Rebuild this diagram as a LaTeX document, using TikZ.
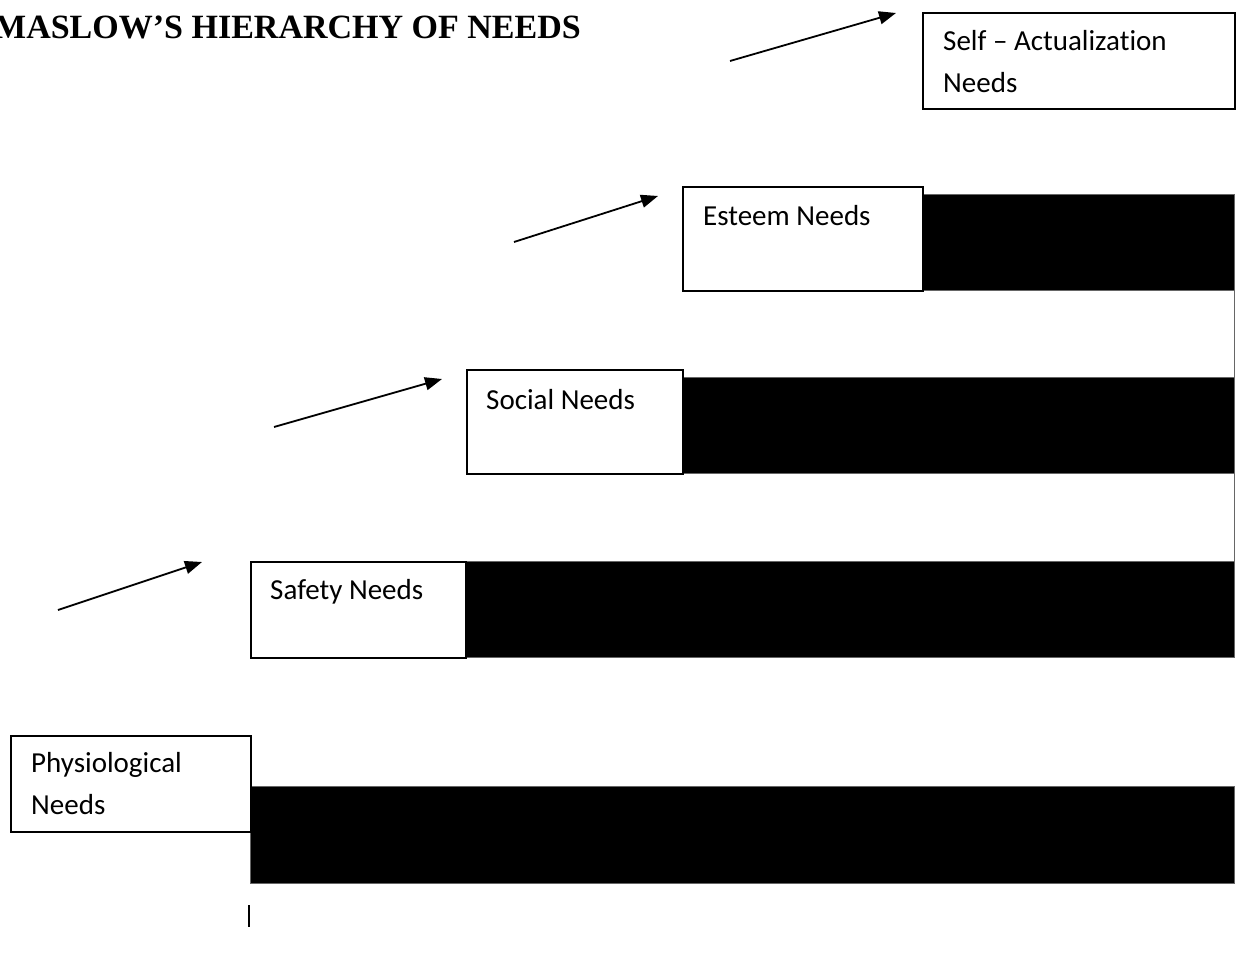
\documentclass[tikz,border=0pt]{standalone}
\usepackage{fontspec}
\setmainfont[Ligatures=NoCommon]{Carlito}
\newfontfamily\titlefont{Liberation Serif}
\usetikzlibrary{arrows.meta}
\tikzset{
  box/.style={draw=black, line width=1.6pt, fill=white, anchor=north west, inner sep=0pt},
  bar/.style={fill=black, draw=black!60, line width=0.8pt, anchor=north west, inner sep=0pt},
  lbl/.style={anchor=base west, inner sep=0pt, font=\fontsize{29}{42}\selectfont, align=left},
  arr/.style={line width=1.8pt, -{Triangle[length=17pt,width=13pt]}},
}
\begin{document}
\begin{tikzpicture}[x=1pt,y=-1pt]
\useasboundingbox (0,0) rectangle (1247,965);
% title
\node[anchor=base west, inner sep=0pt, font=\titlefont\bfseries\fontsize{34}{40}\selectfont] (title) at (-6,39) {MASLOW’S HIERARCHY OF NEEDS};
% right vertical line
\coordinate (vtop) at (1234,194);
\coordinate (vbot) at (1234,561);
\draw[black!60, line width=1pt] (vtop) -- (vbot);
% bars
\node[bar, minimum width=312pt, minimum height=96pt] (esteembar) at (922,194) {};
\node[bar, minimum width=552pt, minimum height=96pt] (socialbar) at (682,377) {};
\node[bar, minimum width=769pt, minimum height=96pt] (safetybar) at (465,561) {};
\node[bar, minimum width=984pt, minimum height=97pt] (physbar) at (250,786) {};
% boxes
\node[box, minimum width=312pt, minimum height=96pt] (selfbox) at (922,12) {};
\node[box, minimum width=240pt, minimum height=104pt] (esteembox) at (682,186) {};
\node[box, minimum width=216pt, minimum height=104pt] (socialbox) at (466,369) {};
\node[box, minimum width=215pt, minimum height=96pt] (safetybox) at (250,561) {};
\node[box, minimum width=240pt, minimum height=96pt] (physbox) at (10,735) {};
% labels (multi-line: base = last line)
\node[lbl] (selftxt) at (943,93) {Self – Actualization\\Needs};
\node[lbl] (esteemtxt) at (703,226) {Esteem Needs};
\node[lbl] (socialtxt) at (486,409) {Social Needs};
\node[lbl] (safetytxt) at (270,599) {Safety Needs};
\node[lbl] (phystxt) at (31,814) {Physiological\\Needs};
% arrows
\coordinate (a1s) at (730,61); \coordinate (a1e) at (896,13);
\coordinate (a2s) at (514,242); \coordinate (a2e) at (658,196);
\coordinate (a3s) at (274,427); \coordinate (a3e) at (442,379);
\coordinate (a4s) at (58,610); \coordinate (a4e) at (202,562);
\draw[arr] (a1s) -- (a1e);
\draw[arr] (a2s) -- (a2e);
\draw[arr] (a3s) -- (a3e);
\draw[arr] (a4s) -- (a4e);
% small tick
\coordinate (tk1) at (249,905); \coordinate (tk2) at (249,927);
\draw[line width=1.8pt] (tk1) -- (tk2);
\end{tikzpicture}
\end{document}
